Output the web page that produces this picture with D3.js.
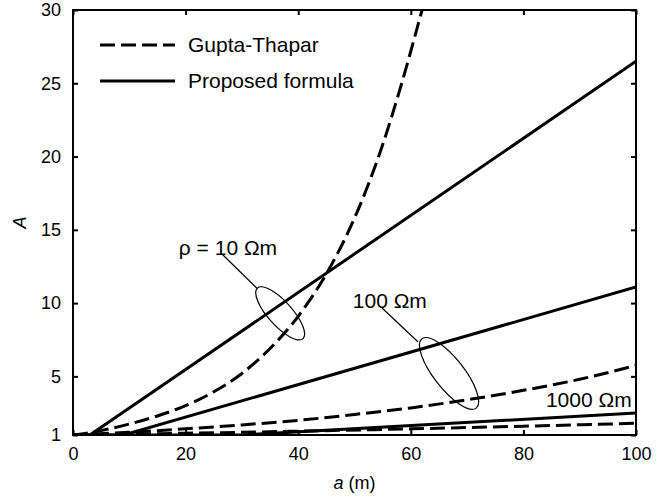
<!DOCTYPE html>
<html>
<head>
<meta charset="utf-8">
<script src="https://cdn.jsdelivr.net/npm/d3@7"></script>
<style>
  body { margin: 0; background: #fff; }
  text { font-family: "Liberation Sans", Arial, sans-serif; fill: #000; }
</style>
</head>
<body>
<svg id="display"></svg>
<script>
/*
 *
 *  Data
 *
 */
// x ticks (a in m) and y ticks (A)
var xTicks = [0, 20, 40, 60, 80, 100];
var yTicks = [1, 5, 10, 15, 20, 25, 30];

// Gupta-Thapar curves, [a, A]
var gupta10 = [[0,1],[5,1.3],[10,1.75],[15,2.3],[20,3.0],[25,3.95],[30,5.2],[35,6.9],[40,9.1],[45,12.0],[50,15.8],[55,20.8],[58,24.5],[62,30]];
var gupta100 = [[0,1],[10,1.19],[20,1.42],[30,1.69],[40,2.0],[50,2.4],[60,2.85],[70,3.4],[80,4.05],[90,4.8],[100,5.75]];
var gupta1000 = [[0,1],[20,1.12],[40,1.26],[60,1.42],[80,1.6],[100,1.8]];

// proposed formula curves, [a, A]
var proposed10 = [[0,1],[3,1],[100,26.5]];
var proposed100 = [[0,1],[9,1],[100,11.1]];
var proposed1000 = [[0,1],[30,1],[100,2.5]];

var legendLabels = ["Gupta-Thapar", "Proposed formula"];

/*
 *
 *  Canvas
 *
 */
var width = 668,
    height = 497,
    margin = {top: 10, right: 32, bottom: 62, left: 73};

var tickFont = 18,
    labelFont = 21;

var svg = d3.select("#display")
              .attr("width", width)
              .attr("height", height);

var x = d3.scaleLinear().domain([0, 100]).range([margin.left, width - margin.right]);
var y = d3.scaleLinear().domain([1, 30]).range([height - margin.bottom, margin.top]);

svg.append("clipPath").attr("id", "clip")
  .append("rect")
    .attr("x", x(0)).attr("y", y(30))
    .attr("width", x(100) - x(0)).attr("height", y(1) - y(30));

var line = d3.line()
  .x(function(d) { return x(d[0]); })
  .y(function(d) { return y(d[1]); });

// smooth version for the curved (dashed) series
var smooth = d3.line()
  .curve(d3.curveMonotoneX)
  .x(function(d) { return x(d[0]); })
  .y(function(d) { return y(d[1]); });

var dash = "15,6";

// curves
var plot = svg.append("g").attr("clip-path", "url(#clip)");

[proposed10, proposed100, proposed1000].forEach(function(s) {
  plot.append("path").datum(s)
    .attr("d", line)
    .attr("fill", "none").attr("stroke", "#000").attr("stroke-width", 3);
});

[gupta10, gupta100, gupta1000].forEach(function(s) {
  plot.append("path").datum(s)
    .attr("d", smooth)
    .attr("fill", "none").attr("stroke", "#000").attr("stroke-width", 3)
    .attr("stroke-dasharray", dash);
});

/*
 *  Axes (inward ticks on all four sides, like the matlab box)
 */
var tickLen = 5;

svg.append("g")
  .attr("transform", "translate(0," + y(1) + ")")
  .call(d3.axisBottom(x).tickValues(xTicks).tickSizeInner(-tickLen).tickSizeOuter(0).tickPadding(12))
  .call(function(g) {
    g.select(".domain").remove();
    g.selectAll("text").attr("font-size", tickFont).attr("font-family", "Liberation Sans, Arial, sans-serif");
  });

svg.append("g")
  .attr("transform", "translate(0," + y(30) + ")")
  .call(d3.axisTop(x).tickValues(xTicks).tickSizeInner(-tickLen).tickSizeOuter(0).tickFormat(""))
  .call(function(g) { g.select(".domain").remove(); });

svg.append("g")
  .attr("transform", "translate(" + x(0) + ",0)")
  .call(d3.axisLeft(y).tickValues(yTicks).tickSizeInner(-tickLen).tickSizeOuter(0).tickPadding(12))
  .call(function(g) {
    g.select(".domain").remove();
    g.selectAll("text").attr("font-size", tickFont).attr("font-family", "Liberation Sans, Arial, sans-serif");
  });

svg.append("g")
  .attr("transform", "translate(" + x(100) + ",0)")
  .call(d3.axisRight(y).tickValues(yTicks).tickSizeInner(-tickLen).tickSizeOuter(0).tickFormat(""))
  .call(function(g) { g.select(".domain").remove(); });

svg.selectAll(".tick line").attr("stroke", "#000").attr("stroke-width", 2);

// frame
svg.append("rect")
  .attr("x", x(0)).attr("y", y(30))
  .attr("width", x(100) - x(0)).attr("height", y(1) - y(30))
  .attr("fill", "none").attr("stroke", "#000").attr("stroke-width", 2);

// axis labels
svg.append("text")
  .attr("x", (x(0) + x(100)) / 2).attr("y", 489)
  .attr("text-anchor", "middle").attr("font-size", tickFont)
  .html('<tspan font-style="italic">a</tspan> (m)');

svg.append("text")
  .attr("transform", "translate(26," + y(15.5) + ") rotate(-90)")
  .attr("text-anchor", "middle").attr("font-size", tickFont).attr("font-style", "italic")
  .text("A");

/*
 *  Legend
 */
var legend = svg.append("g");
legendLabels.forEach(function(lbl, i) {
  var ly = 45 + i * 36;
  legend.append("line")
    .attr("x1", 100).attr("x2", 175).attr("y1", ly).attr("y2", ly)
    .attr("stroke", "#000").attr("stroke-width", 3)
    .attr("stroke-dasharray", i == 0 ? dash : null);
  legend.append("text")
    .attr("x", 188).attr("y", ly + 7)
    .attr("font-size", labelFont)
    .text(lbl);
});

/*
 *  Annotations: ellipses, leader lines and resistivity labels
 */
var ellipses = [
  {a: 36.8, A: 9.3, rx: 34, ry: 12, rot: 48},
  {a: 66.8, A: 5.2, rx: 44, ry: 15, rot: 52}
];
var leaders = [
  [[26.6, 13.3], [32.7, 11.0]],
  [[54.9, 9.67], [61.3, 7.35]]
];
var labels = [
  {a: 18.8, A: 13.3, t: "\u03c1 = 10 \u03a9m"},
  {a: 49.7, A: 9.7, t: "100 \u03a9m"},
  {a: 84, A: 2.9, t: "1000 \u03a9m"}
];

ellipses.forEach(function(e) {
  svg.append("ellipse")
    .attr("transform", "translate(" + x(e.a) + "," + y(e.A) + ") rotate(" + e.rot + ")")
    .attr("rx", e.rx).attr("ry", e.ry)
    .attr("fill", "none").attr("stroke", "#000").attr("stroke-width", 1.2);
});

leaders.forEach(function(l) {
  svg.append("path").datum(l)
    .attr("d", line)
    .attr("fill", "none").attr("stroke", "#000").attr("stroke-width", 1.2);
});

labels.forEach(function(l) {
  svg.append("text")
    .attr("x", x(l.a)).attr("y", y(l.A))
    .attr("font-size", labelFont)
    .text(l.t);
});
</script>
</body>
</html>
